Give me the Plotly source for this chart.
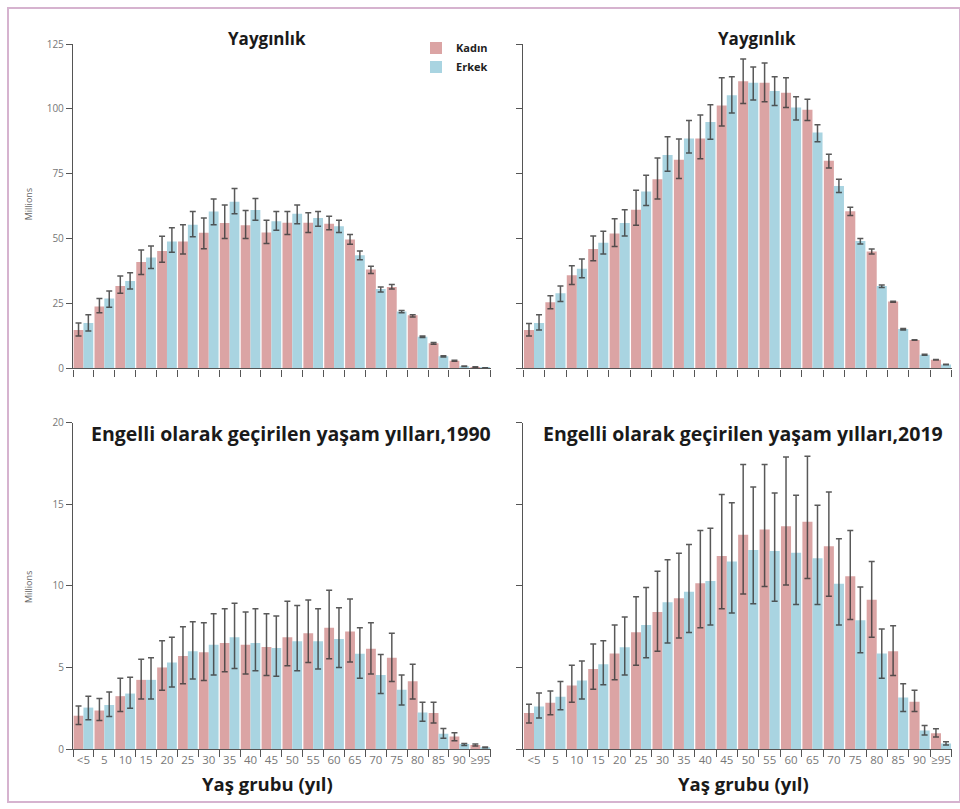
import plotly.graph_objects as go

ages = ["<5", "5", "10", "15", "20", "25", "30", "35", "40", "45",
        "50", "55", "60", "65", "70", "75", "80", "85", "90", "≥95"]

# Panel A: Yaygınlık 1990 (millions)
prev90_f = [14.8, 23.9, 31.8, 41.0, 45.3, 48.9, 52.3, 56.1, 55.2, 52.4,
            56.2, 56.2, 55.8, 49.7, 38.1, 31.4, 20.5, 9.7, 3.0, 0.6]
prev90_f_hi = [17.5, 27.0, 35.6, 45.7, 51.0, 55.4, 58.0, 63.0, 60.9, 57.1,
               60.5, 60.0, 58.7, 51.6, 39.4, 32.4, 20.7, 10.0, 3.2, 0.7]
prev90_f_lo = [12.5, 21.5, 29.0, 36.2, 40.9, 44.1, 46.1, 50.1, 50.1, 48.2,
               51.6, 52.4, 53.5, 47.9, 36.6, 30.6, 19.8, 9.3, 2.8, 0.5]
prev90_m = [17.5, 27.0, 33.7, 42.8, 48.9, 55.4, 60.5, 64.3, 61.1, 56.7,
            59.6, 58.0, 54.8, 43.6, 30.6, 22.0, 12.2, 4.7, 0.9, 0.25]
prev90_m_hi = [20.7, 29.9, 36.9, 47.2, 54.2, 60.5, 65.3, 69.4, 65.5, 60.5,
               63.0, 60.5, 57.1, 45.3, 31.4, 22.3, 12.5, 4.9, 1.0, 0.3]
prev90_m_lo = [14.4, 23.6, 30.6, 38.5, 44.8, 50.8, 55.4, 59.6, 57.1, 53.3,
               55.8, 54.8, 52.4, 41.9, 29.5, 21.5, 11.9, 4.4, 0.8, 0.2]

# Panel B: Yaygınlık 2019 (millions)
prev19_f = [14.8, 25.5, 35.9, 46.0, 52.0, 61.2, 72.9, 80.4, 88.6, 101.3,
            110.7, 110.1, 106.3, 99.7, 80.1, 60.6, 45.1, 25.8, 11.0, 3.4]
prev19_f_hi = [17.3, 28.0, 39.6, 51.1, 57.7, 68.7, 81.1, 88.4, 97.7, 112.0,
               119.3, 117.7, 112.0, 103.8, 82.6, 62.1, 46.0, 25.9, 11.1, 3.5]
prev19_f_lo = [12.5, 23.0, 32.4, 41.5, 47.0, 55.2, 65.3, 73.2, 80.8, 93.4,
               102.1, 102.8, 100.6, 95.6, 77.3, 59.0, 44.1, 25.5, 10.9, 3.3]
prev19_m = [17.5, 29.0, 38.4, 48.5, 56.1, 68.2, 82.3, 88.6, 95.0, 105.3,
            110.1, 106.9, 100.6, 90.9, 70.3, 49.1, 31.8, 15.2, 5.3, 1.5]
prev19_m_hi = [20.7, 31.8, 42.2, 52.9, 61.2, 74.5, 89.3, 95.6, 101.6, 112.4,
               116.2, 112.4, 104.7, 93.9, 72.9, 50.1, 32.2, 15.4, 5.5, 1.6]
prev19_m_lo = [14.8, 25.8, 35.0, 44.1, 51.1, 62.8, 76.0, 83.0, 88.3, 98.5,
               103.5, 101.3, 95.8, 87.4, 67.8, 48.0, 31.2, 14.8, 5.1, 1.4]

# Panel C: YLD 1990 (millions)
yld90_f = [2.04, 2.36, 3.24, 4.24, 5.0, 5.7, 5.94, 6.5, 6.4, 6.26,
           6.86, 7.1, 7.44, 7.2, 6.14, 5.6, 4.16, 2.2, 0.76, 0.24]
yld90_f_hi = [2.64, 3.1, 4.34, 5.5, 6.64, 7.5, 7.74, 8.6, 8.4, 8.3,
              9.06, 9.14, 9.74, 9.2, 7.74, 7.1, 5.2, 2.86, 1.0, 0.3]
yld90_f_lo = [1.5, 1.74, 2.3, 3.06, 3.6, 4.0, 4.2, 4.74, 4.6, 4.5,
              5.1, 5.3, 5.54, 5.34, 4.6, 4.14, 3.06, 1.6, 0.5, 0.18]
yld90_m = [2.54, 2.7, 3.4, 4.24, 5.3, 6.0, 6.4, 6.86, 6.5, 6.2,
           6.6, 6.6, 6.74, 5.84, 4.54, 3.64, 2.24, 0.94, 0.3, 0.1]
yld90_m_hi = [3.24, 3.5, 4.4, 5.6, 6.86, 7.8, 8.3, 8.94, 8.6, 8.16,
              8.8, 8.6, 8.66, 7.44, 5.8, 4.54, 2.86, 1.26, 0.34, 0.12]
yld90_m_lo = [1.8, 2.0, 2.5, 3.06, 3.8, 4.3, 4.54, 4.94, 4.8, 4.46,
              4.8, 4.9, 5.0, 4.34, 3.4, 2.7, 1.7, 0.66, 0.22, 0.08]

# Panel D: YLD 2019 (millions)
yld19_f = [2.2, 2.84, 3.9, 4.9, 5.86, 7.16, 8.4, 9.24, 10.16, 11.84,
           13.14, 13.46, 13.66, 13.94, 12.44, 10.6, 9.16, 6.0, 2.9, 0.96]
yld19_f_hi = [2.74, 3.56, 5.14, 6.44, 7.6, 9.34, 10.9, 12.0, 13.4, 15.6,
              17.44, 17.44, 17.9, 17.96, 15.76, 13.4, 11.5, 7.56, 3.6, 1.24]
yld19_f_lo = [1.6, 2.1, 2.86, 3.66, 4.24, 5.14, 6.0, 6.8, 7.44, 8.6,
              9.5, 9.96, 10.06, 10.46, 9.36, 7.94, 6.86, 4.5, 2.3, 0.74]
yld19_m = [2.6, 3.2, 4.2, 5.2, 6.24, 7.6, 9.0, 9.64, 10.3, 11.5,
           12.2, 12.14, 12.04, 11.7, 10.14, 7.9, 5.86, 3.16, 1.14, 0.34]
yld19_m_hi = [3.44, 4.14, 5.4, 6.64, 8.1, 9.9, 11.6, 12.54, 13.54, 15.1,
              16.06, 15.7, 15.56, 14.94, 12.9, 9.94, 7.36, 4.0, 1.44, 0.44]
yld19_m_lo = [1.9, 2.4, 3.06, 3.94, 4.54, 5.6, 6.5, 7.14, 7.6, 8.34,
              8.9, 9.06, 8.86, 8.86, 7.6, 5.9, 4.34, 2.3, 0.86, 0.24]

PINK = "#dba4a4"
BLUE = "#a9d4e1"
ERR = "rgba(60,60,60,0.85)"
FONT = "Open Sans"

fig = go.Figure()

panels = [
    ("x", "y", prev90_f, prev90_f_hi, prev90_f_lo, prev90_m, prev90_m_hi, prev90_m_lo, True),
    ("x2", "y2", prev19_f, prev19_f_hi, prev19_f_lo, prev19_m, prev19_m_hi, prev19_m_lo, False),
    ("x3", "y3", yld90_f, yld90_f_hi, yld90_f_lo, yld90_m, yld90_m_hi, yld90_m_lo, False),
    ("x4", "y4", yld19_f, yld19_f_hi, yld19_f_lo, yld19_m, yld19_m_hi, yld19_m_lo, False),
]

xs = list(range(len(ages)))
for xa, ya, f, fhi, flo, m, mhi, mlo, leg in panels:
    for name, vals, hi, lo, col in [("Kadın", f, fhi, flo, PINK), ("Erkek", m, mhi, mlo, BLUE)]:
        fig.add_trace(go.Bar(
            x=xs, y=vals, name=name, marker=dict(color=col, line=dict(width=0)),
            xaxis=xa, yaxis=ya, showlegend=leg, legendgroup=name,
            error_y=dict(type="data", symmetric=False,
                         array=[h - v for h, v in zip(hi, vals)],
                         arrayminus=[v - l for v, l in zip(vals, lo)],
                         color=ERR, thickness=1.5, width=3),
        ))

xdom_l = [73 / 960, 490.7 / 960]
xdom_r = [523.3 / 960, 951.7 / 960]
ydom_t = [1 - 367.3 / 809, 1 - 36.8 / 809]
ydom_b = [1 - 755 / 809, 1 - 422.7 / 809]

bounds = [i - 0.5 for i in range(len(ages) + 1)]

def xaxis(dom, anchor, labels):
    return dict(domain=dom, anchor=anchor, range=[-0.5, len(ages) - 0.5],
                showline=True, linecolor="#555", linewidth=1.3,
                tickmode="array", tickvals=xs, ticktext=ages if labels else [""] * len(ages),
                showticklabels=labels, ticks="", showgrid=False, zeroline=False,
                tickfont=dict(family=FONT, size=11.5, color="#777"),
                minor=dict(tickmode="array", tickvals=bounds, ticks="outside",
                           ticklen=7, tickwidth=1.3, tickcolor="#555", showgrid=False),
                fixedrange=True)

def yaxis(dom, anchor, rng, dt, labels):
    return dict(domain=dom, anchor=anchor, range=rng, tick0=0, dtick=dt,
                showline=True, linecolor="#555", linewidth=1.3,
                ticks="outside", ticklen=6, tickwidth=1.3, tickcolor="#555",
                showticklabels=labels, showgrid=False, zeroline=False,
                tickfont=dict(family=FONT, size=10, color="#777"))

fig.update_layout(
    width=960, height=809,
    margin=dict(l=0, r=0, t=0, b=0),
    paper_bgcolor="white", plot_bgcolor="white",
    barmode="group", bargap=0.06, bargroupgap=0,
    font=dict(family=FONT, color="#222"),
    xaxis=xaxis(xdom_l, "y", False),
    xaxis2=xaxis(xdom_r, "y2", False),
    xaxis3=xaxis(xdom_l, "y3", True),
    xaxis4=xaxis(xdom_r, "y4", True),
    yaxis=yaxis(ydom_t, "x", [0, 125], 25, True),
    yaxis2=yaxis(ydom_t, "x2", [0, 125], 25, False),
    yaxis3=yaxis(ydom_b, "x3", [0, 20], 5, True),
    yaxis4=yaxis(ydom_b, "x4", [0, 20], 5, False),
    legend=dict(x=416 / 960, y=1 - 26 / 809, xanchor="left", yanchor="top",
                bgcolor="rgba(0,0,0,0)", font=dict(family=FONT, size=11, color="#222", weight="bold"),
                itemwidth=30, tracegroupgap=0, traceorder="normal"),
)

annots = [
    dict(text="<b>Yaygınlık</b>", x=267 / 960, y=1 - 31 / 809, size=17),
    dict(text="<b>Yaygınlık</b>", x=757 / 960, y=1 - 31 / 809, size=17),
    dict(text="<b>Engelli olarak geçirilen yaşam yılları,1990</b>", x=291 / 960, y=1 - 434 / 809, size=19.5),
    dict(text="<b>Engelli olarak geçirilen yaşam yılları,2019</b>", x=743 / 960, y=1 - 434 / 809, size=19.5),
    dict(text="<b>Yaş grubu (yıl)</b>", x=267 / 960, y=1 - 790 / 809, size=18.5),
    dict(text="<b>Yaş grubu (yıl)</b>", x=743 / 960, y=1 - 790 / 809, size=18.5),
]
for a in annots:
    fig.add_annotation(text=a["text"], x=a["x"], y=a["y"], xref="paper", yref="paper",
                       xanchor="center", yanchor="middle", showarrow=False,
                       font=dict(family=FONT, size=a["size"], color="#1a1a1a"))

for yc in [200, 590]:
    fig.add_annotation(text="Millions", x=28 / 960, y=1 - yc / 809, xref="paper", yref="paper",
                       textangle=-90, showarrow=False, xanchor="center", yanchor="middle",
                       font=dict(family=FONT, size=9, color="#666"))

# image frame
fig.add_shape(type="rect", xref="paper", yref="paper", x0=8 / 960, x1=1, y0=0, y1=1,
              line=dict(color="#d6b3cf", width=2), fillcolor="rgba(0,0,0,0)", layer="below")

fig.write_html("out.html")
